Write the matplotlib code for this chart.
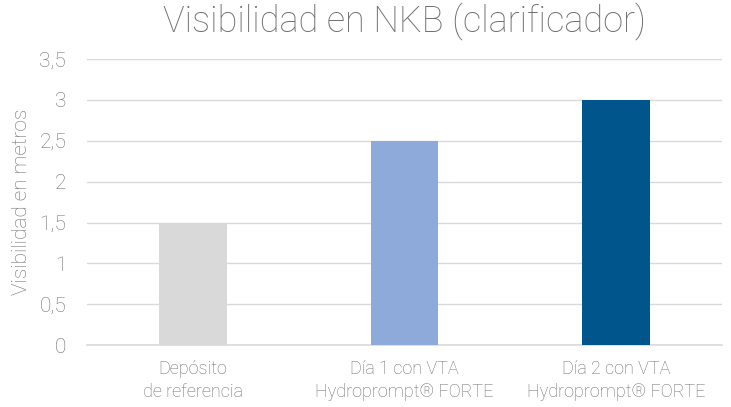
import numpy as np
import matplotlib.pyplot as plt

plt.rcParams['font.family'] = ['Roboto', 'DejaVu Sans']

categorias = ['Depósito\nde referencia',
              'Día 1 con VTA\nHydroprompt® FORTE',
              'Día 2 con VTA\nHydroprompt® FORTE']
visibilidad = [1.5, 2.5, 3.0]
colores = ['#D9D9D9', '#8EAADB', '#00558C']
yticks = [0, 0.5, 1, 1.5, 2, 2.5, 3, 3.5]
ytick_labels = ['0', '0,5', '1', '1,5', '2', '2,5', '3', '3,5']

gris = '#6E6E6E'
peso = 'light'

fig = plt.figure(figsize=(7.31, 4.07), dpi=100)
ax = fig.add_axes([0.119, 0.152, 0.869, 0.703])

x = np.arange(len(categorias))
ax.bar(x, visibilidad, width=0.32, color=colores, zorder=3)

ax.set_xlim(-0.5, 2.5)
ax.set_ylim(0, 3.5)
ax.set_yticks(yticks)
ax.set_yticklabels(ytick_labels)
ax.set_xticks(x)
ax.set_xticklabels(categorias, linespacing=1.35)

ax.grid(axis='y', color='#D9D9D9', linewidth=1, zorder=0)
for s in ['top', 'right', 'left']:
    ax.spines[s].set_visible(False)
ax.spines['bottom'].set_color('#D9D9D9')
ax.spines['bottom'].set_linewidth(1.2)
ax.tick_params(axis='both', length=0, colors=gris, labelsize=13)
ax.tick_params(axis='y', pad=15, labelsize=15)
ax.tick_params(axis='x', pad=11)
for t in ax.get_xticklabels() + ax.get_yticklabels():
    t.set_fontweight(peso)

ax.set_ylabel('Visibilidad en metros', color=gris, fontsize=15, fontweight=peso, labelpad=6)
fig.suptitle('Visibilidad en NKB (clarificador)', color=gris, fontsize=26,
             fontweight=peso, x=0.553, y=0.995)

fig.savefig('out.png', dpi=100)
